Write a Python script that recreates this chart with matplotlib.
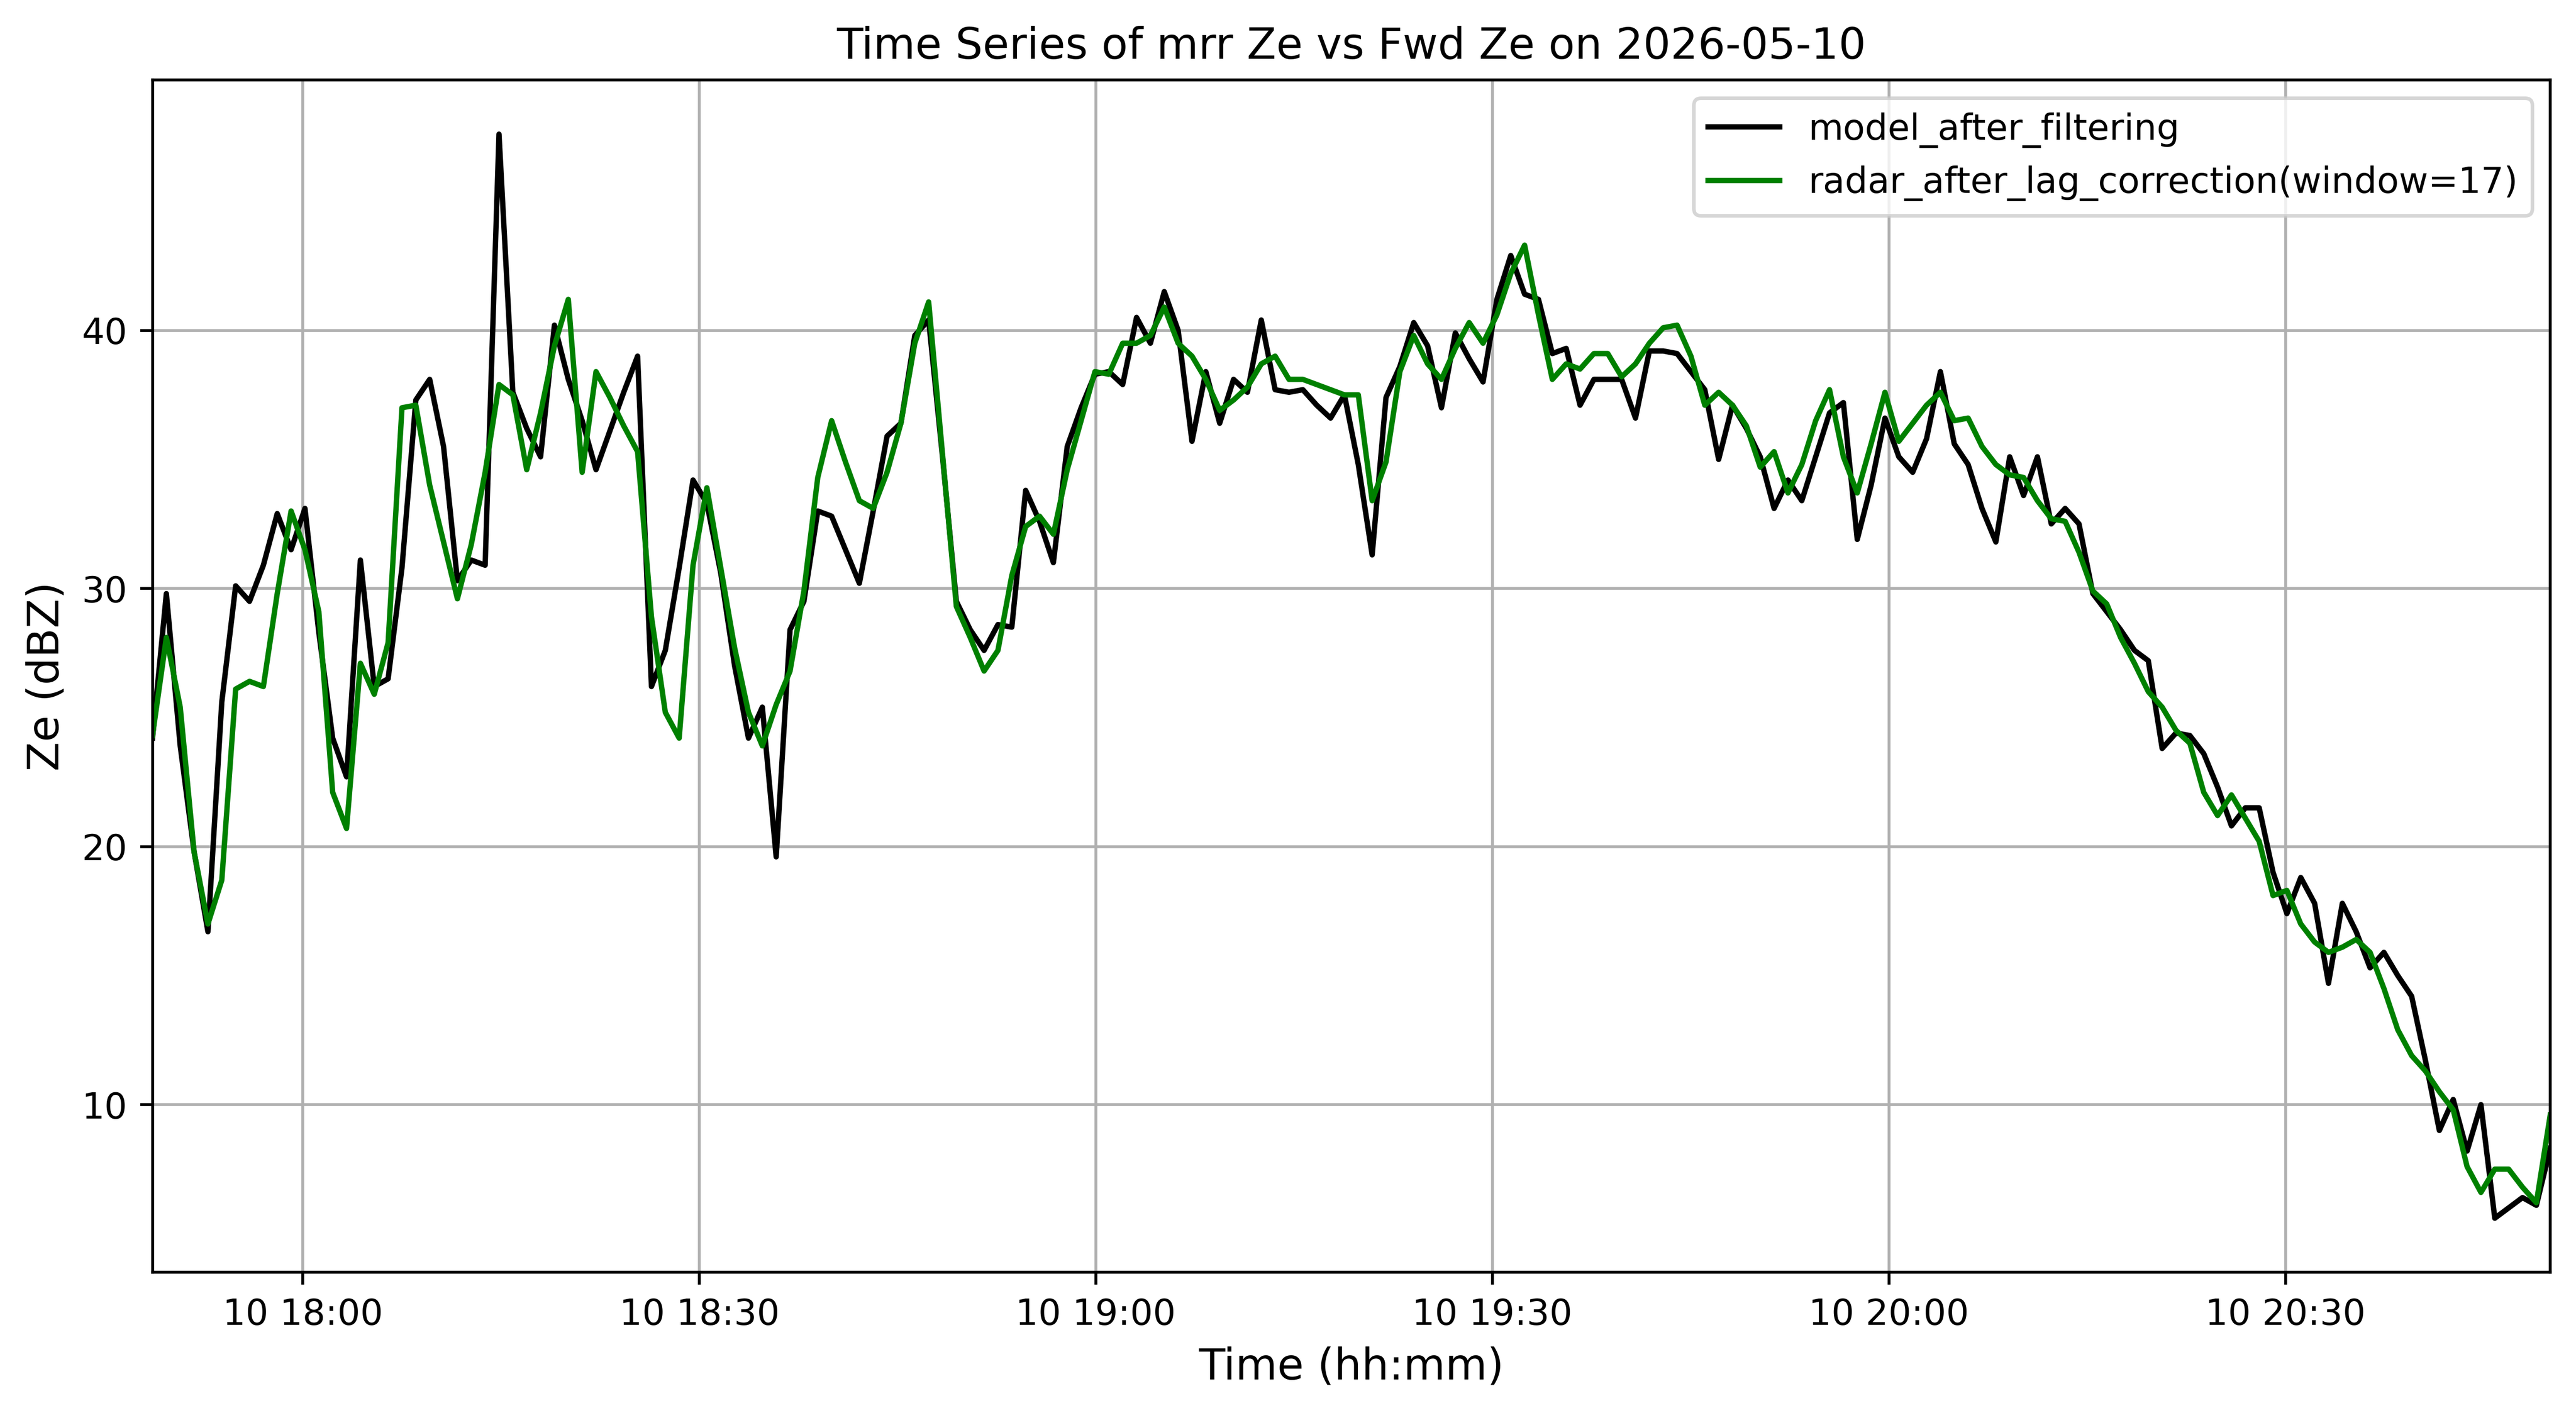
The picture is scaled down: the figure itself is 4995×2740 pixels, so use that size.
import matplotlib
matplotlib.use("Agg")
import matplotlib.pyplot as plt
import pandas as pd
import numpy as np

# ---- data ----
t_start = "2026-05-10 17:48:38"
t_end = "2026-05-10 20:50:02"

model_ze = [
    # 17:48 - 18:19
    24.2, 29.8, 23.9, 19.8, 16.7, 25.6, 30.1, 29.5, 30.9, 32.9,
    31.5, 33.1, 28.3, 24.2, 22.7, 31.1, 26.2, 26.5, 30.8, 37.3,
    38.1, 35.5, 30.3, 31.1, 30.9, 47.6, 37.6, 36.2, 35.1, 40.2,
    # 18:20 - 18:49
    38.1, 36.5, 34.6, 36.1, 37.6, 39.0, 26.2, 27.6, 30.8, 34.2,
    33.3, 30.6, 27.0, 24.2, 25.4, 19.6, 28.4, 29.5, 33.0, 32.8,
    31.5, 30.2, 33.0, 35.9, 36.4, 39.8, 40.4, 35.1, 29.5,
    # 18:50 - 19:20
    28.4, 27.6, 28.6, 28.5, 33.8, 32.6, 31.0, 35.5, 37.0, 38.3,
    38.4, 37.9, 40.5, 39.5, 41.5, 40.0, 35.7, 38.4, 36.4, 38.1,
    37.6, 40.4, 37.7, 37.6, 37.7, 37.1, 36.6, 37.5, 34.8, 31.3,
    # 19:21 - 19:50
    37.4, 38.6, 40.3, 39.4, 37.0, 39.9, 38.9, 38.0, 41.2, 42.9,
    41.4, 41.2, 39.1, 39.3, 37.1, 38.1, 38.1, 38.1, 36.6, 39.2,
    39.2, 39.1, 38.4, 37.7, 35.0, 37.1, 36.2, 35.1, 33.1,
    # 19:51 - 20:21
    34.2, 33.4, 35.1, 36.8, 37.2, 31.9, 34.0, 36.6, 35.1, 34.5,
    35.8, 38.4, 35.6, 34.8, 33.1, 31.8, 35.1, 33.6, 35.1, 32.5,
    33.1, 32.5, 29.8, 29.1, 28.4, 27.6, 27.2, 23.8, 24.4,
    # 20:22 - 20:50
    24.3, 23.6, 22.3, 20.8, 21.5, 21.5, 19.0, 17.4, 18.8, 17.8,
    14.7, 17.8, 16.7, 15.3, 15.9, 15.0, 14.2, 11.7, 9.0, 10.2,
    8.2, 10.0, 5.6, 6.0, 6.4, 6.1, 8.3,
]

radar_ze = [
    24.3, 28.1, 25.4, 19.8, 17.0, 18.7, 26.1, 26.4, 26.2, 29.8,
    33.0, 31.5, 29.1, 22.1, 20.7, 27.1, 25.9, 27.9, 37.0, 37.1,
    34.0, 31.8, 29.6, 31.7, 34.5, 37.9, 37.5, 34.6, 36.8, 39.4,
    41.2, 34.5, 38.4, 37.4, 36.3, 35.3, 28.9, 25.2, 24.2, 30.9,
    33.9, 30.8, 27.7, 25.2, 23.9, 25.5, 26.8, 29.9, 34.3, 36.5,
    34.9, 33.4, 33.1, 34.5, 36.4, 39.5, 41.1, 35.2, 29.3,
    28.1, 26.8, 27.6, 30.5, 32.4, 32.8, 32.1, 34.6, 36.5, 38.4,
    38.3, 39.5, 39.5, 39.8, 40.9, 39.5, 39.0, 38.1, 36.9, 37.3,
    37.8, 38.7, 39.0, 38.1, 38.1, 37.9, 37.7, 37.5, 37.5, 33.4,
    34.9, 38.4, 39.8, 38.7, 38.1, 39.3, 40.3, 39.5, 40.6, 42.2,
    43.3, 40.6, 38.1, 38.7, 38.5, 39.1, 39.1, 38.2, 38.7, 39.5,
    40.1, 40.2, 39.0, 37.1, 37.6, 37.1, 36.3, 34.7, 35.3,
    33.7, 34.8, 36.5, 37.7, 35.1, 33.7, 35.6, 37.6, 35.7, 36.4,
    37.1, 37.6, 36.5, 36.6, 35.5, 34.8, 34.4, 34.3, 33.4, 32.7,
    32.6, 31.4, 29.9, 29.4, 28.1, 27.1, 26.0, 25.4, 24.5,
    24.0, 22.1, 21.2, 22.0, 21.1, 20.2, 18.1, 18.3, 17.0, 16.3,
    15.9, 16.1, 16.4, 15.9, 14.5, 12.9, 11.9, 11.3, 10.5, 9.8,
    7.6, 6.6, 7.5, 7.5, 6.8, 6.2, 9.6,
]

times = pd.date_range(t_start, t_end, periods=len(model_ze))

title = "Time Series of mrr Ze vs Fwd Ze on 2026-05-10"
label_model = "model_after_filtering"
label_radar = "radar_after_lag_correction(window=17)"

# ---- figure ----
fig = plt.figure(figsize=(4995 / 500, 2740 / 500), dpi=500)
ax = fig.add_axes([0.0592, 0.0995, 0.99 - 0.0592, 0.9434 - 0.0995])

ax.plot(times, model_ze, color="black", linewidth=1.5, label=label_model)
ax.plot(times, radar_ze, color="green", linewidth=1.5, label=label_radar)

ax.set_xlim(times[0], times[-1])
ax.set_title(title, fontsize=12)
ax.set_xlabel("Time (hh:mm)", fontsize=12)
ax.set_ylabel("Ze (dBZ)", fontsize=12)
ax.tick_params(labelsize=10)
ax.grid(True)
ax.legend(loc="upper right", fontsize=10)

fig.savefig("out.png", dpi=500)
